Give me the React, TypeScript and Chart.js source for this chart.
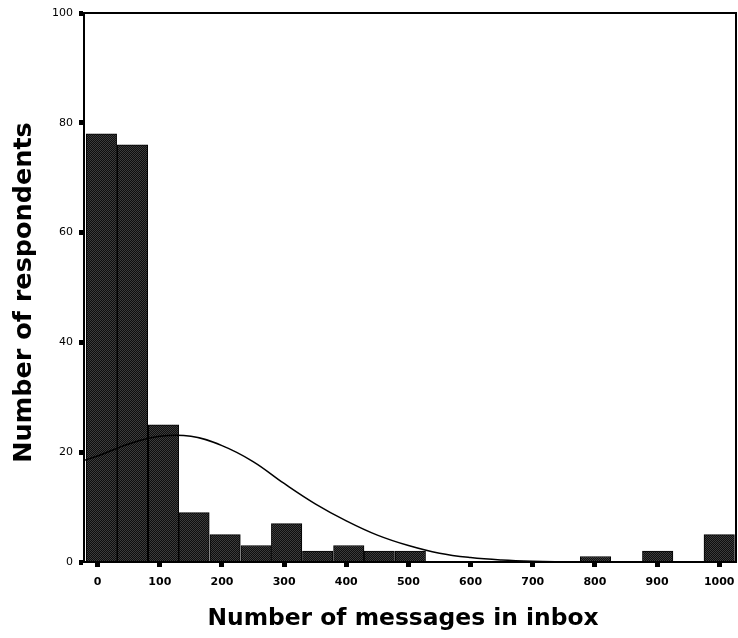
import React, { useEffect, useRef } from "react";
import { Chart, registerables } from "chart.js";

Chart.register(...registerables);

// Histogram bins (bar centres) and respondent counts
const binCenters = [6, 56, 106, 155, 205, 255, 304, 354, 404, 453, 503, 553, 603, 652, 702, 752, 801, 851, 901, 950, 1000];
const counts = [78, 76, 25, 9, 5, 3, 7, 2, 3, 2, 2, 0, 0, 0, 0, 0, 1, 0, 2, 0, 5];

// Fitted normal curve
const curveX = [-22, 0, 50, 100, 150, 200, 250, 300, 350, 400, 450, 500, 550, 600, 650, 700, 750, 800];
const curveY = [18.5, 19.3, 21.5, 22.9, 22.9, 21.2, 18.3, 14.3, 10.6, 7.5, 4.9, 3.0, 1.6, 0.8, 0.35, 0.12, 0.04, 0];

const xTicks = [0, 100, 200, 300, 400, 500, 600, 700, 800, 900, 1000];
const yTicks = [0, 20, 40, 60, 80, 100];

const xTitle = "Number of messages in inbox";
const yTitle = "Number of respondents";

function makePattern(): CanvasPattern | string {
  const c = document.createElement("canvas");
  c.width = 2;
  c.height = 2;
  const g = c.getContext("2d");
  if (!g) return "#262626";
  g.fillStyle = "#0e0e0e";
  g.fillRect(0, 0, 2, 2);
  g.fillStyle = "#3c3c3c";
  g.fillRect(0, 0, 1, 1);
  g.fillRect(1, 1, 1, 1);
  const ctx = document.createElement("canvas").getContext("2d");
  const p = ctx ? ctx.createPattern(c, "repeat") : null;
  return p || "#262626";
}

const frame = {
  id: "frame",
  afterDatasetsDraw(chart: any) {
    const { ctx, chartArea } = chart;
    ctx.save();
    ctx.strokeStyle = "#000";
    ctx.lineWidth = 2;
    ctx.strokeRect(chartArea.left, chartArea.top, chartArea.right - chartArea.left, chartArea.bottom - chartArea.top);
    ctx.restore();
  },
};

const titles = {
  id: "titles",
  afterDraw(chart: any) {
    const { ctx } = chart;
    ctx.save();
    ctx.fillStyle = "#000";
    ctx.textAlign = "center";
    ctx.textBaseline = "middle";
    ctx.font = "bold 23.4px 'DejaVu Sans'";
    ctx.fillText(xTitle, 403, 619);
    ctx.translate(24.5, 292.5);
    ctx.rotate(-Math.PI / 2);
    ctx.font = "bold 25.5px 'DejaVu Sans'";
    ctx.fillText(yTitle, 0, 0);
    ctx.restore();
  },
};

export default function App() {
  const ref = useRef<HTMLCanvasElement | null>(null);
  useEffect(() => {
    document.body.style.margin = "0";
    const canvas = ref.current;
    if (!canvas) return;
    const pattern = makePattern();
    const chart = new Chart(canvas, {
      type: "bar",
      data: {
        datasets: [
          {
            type: "line",
            label: "Normal",
            data: curveX.map((x, i) => ({ x, y: curveY[i] })),
            borderColor: "#000",
            borderWidth: 1.5,
            pointRadius: 0,
            tension: 0.4,
            fill: false,
            order: 0,
          } as any,
          {
            type: "bar",
            label: "Respondents",
            data: binCenters.map((x, i) => ({ x, y: counts[i] })),
            backgroundColor: pattern as any,
            borderColor: "#000",
            borderWidth: 1,
            barPercentage: 1,
            categoryPercentage: 1,
            order: 1,
          } as any,
        ],
      },
      options: {
        responsive: false,
        animation: false,
        layout: { padding: { top: 13, right: 2, left: 0, bottom: 0 } },
        plugins: { legend: { display: false }, tooltip: { enabled: false } },
        scales: {
          x: {
            type: "linear",
            min: -22,
            max: 1027,
            offset: false,
            afterFit: (s: any) => {
              s.height = 76;
              s.paddingLeft = 0;
              s.paddingRight = 0;
            },
            afterBuildTicks: (s: any) => {
              s.ticks = xTicks.map((v) => ({ value: v }));
            },
            grid: {
              display: true,
              drawOnChartArea: false,
              drawTicks: true,
              tickLength: 5,
              tickWidth: 5,
              tickColor: "#000",
              offset: false,
            },
            border: { display: true, color: "#000", width: 2 },
            ticks: {
              color: "#000",
              padding: 9,
              maxRotation: 0,
              autoSkip: false,
              callback: (v: any) => String(v),
              font: { family: "DejaVu Sans", size: 11, weight: "bold" },
            },
            title: { display: false, text: xTitle },
          },
          y: {
            min: 0,
            max: 100,
            afterFit: (s: any) => {
              s.width = 84;
              s.paddingTop = 0;
              s.paddingBottom = 0;
            },
            afterBuildTicks: (s: any) => {
              s.ticks = yTicks.map((v) => ({ value: v }));
            },
            grid: {
              display: true,
              drawOnChartArea: false,
              drawTicks: true,
              tickLength: 5,
              tickWidth: 5,
              tickColor: "#000",
            },
            border: { display: true, color: "#000", width: 2 },
            ticks: {
              color: "#000",
              padding: 6,
              autoSkip: false,
              callback: (v: any) => String(v),
              font: { family: "DejaVu Sans", size: 11 },
            },
            title: { display: false, text: yTitle },
          },
        },
      },
      plugins: [frame, titles],
    });
    return () => chart.destroy();
  }, []);
  return (
    <div style={{ width: 738, height: 638, background: "#fff" }}>
      <canvas ref={ref} width={738} height={638} style={{ display: "block" }} />
    </div>
  );
}
